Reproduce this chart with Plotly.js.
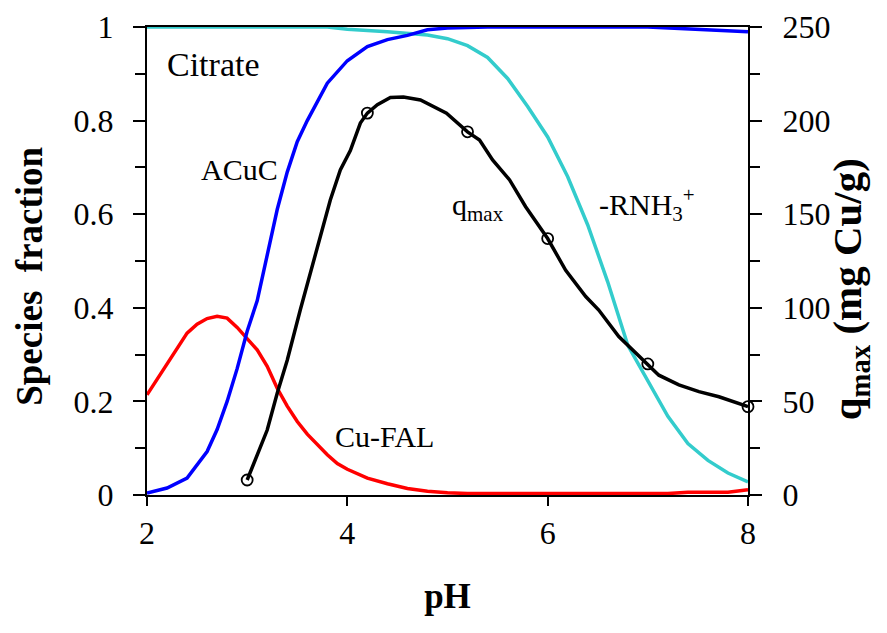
<!DOCTYPE html>
<html>
<head>
<meta charset="utf-8">
<script src="https://cdn.plot.ly/plotly-3.0.1.min.js"></script>
<style>html,body{margin:0;padding:0;background:#fff;}</style>
</head>
<body>
<div id="chart"></div>
<script>
// -RNH3+ species fraction
const phRNH3 = [2, 3.8, 4.0, 4.4, 4.8, 5.0, 5.2, 5.4, 5.6, 5.8, 6.0, 6.2, 6.4, 6.6, 6.8, 7.0, 7.2, 7.4, 7.6, 7.8, 8.0];
const fracRNH3 = [1, 1, 0.995, 0.99, 0.983, 0.975, 0.96, 0.935, 0.89, 0.83, 0.765, 0.68, 0.577, 0.455, 0.32, 0.245, 0.168, 0.11, 0.074, 0.047, 0.028];
// ACuC species fraction
const phACuC = [2, 2.2, 2.4, 2.6, 2.7, 2.8, 2.9, 3.0, 3.1, 3.2, 3.3, 3.4, 3.5, 3.6, 3.8, 4.0, 4.2, 4.4, 4.6, 4.8, 5.0, 5.4, 7.0, 8.0];
const fracACuC = [0.004, 0.015, 0.036, 0.093, 0.14, 0.2, 0.27, 0.35, 0.415, 0.51, 0.61, 0.69, 0.755, 0.80, 0.88, 0.928, 0.958, 0.973, 0.982, 0.994, 0.998, 1, 1, 0.99];
// Cu-FAL species fraction
const phCuFAL = [2, 2.2, 2.4, 2.5, 2.6, 2.7, 2.8, 2.9, 3.0, 3.1, 3.2, 3.3, 3.4, 3.5, 3.6, 3.7, 3.8, 3.9, 4.0, 4.2, 4.4, 4.6, 4.8, 5.0, 5.2, 7.2, 7.4, 7.8, 8.0];
const fracCuFAL = [0.214, 0.281, 0.346, 0.365, 0.377, 0.382, 0.378, 0.358, 0.333, 0.31, 0.275, 0.228, 0.19, 0.157, 0.13, 0.107, 0.086, 0.067, 0.055, 0.036, 0.024, 0.014, 0.008, 0.005, 0.003, 0.003, 0.006, 0.006, 0.011];
// qmax model curve (mg Cu/g)
const phQcurve = [3.0, 3.2, 3.3, 3.4, 3.53, 3.7, 3.83, 3.93, 4.03, 4.13, 4.2, 4.3, 4.43, 4.56, 4.73, 4.99, 5.2, 5.32, 5.45, 5.62, 5.78, 6.0, 6.18, 6.38, 6.51, 6.71, 6.85, 7.0, 7.11, 7.31, 7.51, 7.71, 8.0];
const qCurve = [8, 34.7, 54.3, 72, 98.8, 132, 157.6, 173.6, 184, 198.7, 204, 208.5, 212.4, 212.6, 211, 204, 194, 189.6, 179, 168.3, 154, 137, 120, 106, 98.8, 84.6, 77.5, 70, 64, 58.8, 55.2, 52.5, 47.2];
// qmax measured points
const phQpts = [3, 4.2, 5.2, 6, 7, 8];
const qPts = [8, 204, 194, 137, 70, 47.2];
// tick labels
const xTicks = [2, 4, 6, 8];
const yTicks = [0, 0.2, 0.4, 0.6, 0.8, 1];
const y2Ticks = [0, 50, 100, 150, 200, 250];

const serif = 'Liberation Serif';
const lw = 3.5;

const traces = [
  {x: phRNH3, y: fracRNH3, mode: 'lines', line: {color: '#33CCCC', width: lw}, cliponaxis: false},
  {x: phCuFAL, y: fracCuFAL, mode: 'lines', line: {color: '#FF0000', width: lw}, cliponaxis: false},
  {x: phACuC, y: fracACuC, mode: 'lines', line: {color: '#0000FF', width: lw}, cliponaxis: false},
  {x: phQcurve, y: qCurve, yaxis: 'y2', mode: 'lines', line: {color: '#000000', width: lw}, cliponaxis: false},
  {x: phQpts, y: qPts, yaxis: 'y2', mode: 'markers', marker: {symbol: 'circle-open', size: 11, color: '#000', line: {width: 1.8, color: '#000'}}, cliponaxis: false}
];

const layout = {
  width: 887, height: 633,
  margin: {l: 147, r: 139, t: 27, b: 138},
  paper_bgcolor: '#fff', plot_bgcolor: '#fff',
  showlegend: false,
  font: {family: serif, size: 32, color: '#000'},
  xaxis: {
    range: [2, 8], tickvals: xTicks, ticktext: xTicks.map(String),
    ticks: 'outside', ticklen: 9, tickwidth: 2, tickcolor: '#000',
    showline: true, linewidth: 2, linecolor: '#000', mirror: true,
    showgrid: false, zeroline: false,
    title: {text: '<b>pH</b>', font: {size: 35}, standoff: 33}
  },
  yaxis: {
    range: [0, 1], tickvals: yTicks, ticktext: yTicks.map(String),
    ticks: 'outside', ticklen: 12, tickwidth: 2, tickcolor: '#000',
    minor: {tickvals: [0.1, 0.3, 0.5, 0.7, 0.9], ticks: 'outside', ticklen: 10, tickwidth: 2, tickcolor: '#000'},
    showline: true, linewidth: 2, linecolor: '#000',
    showgrid: false, zeroline: false,
    ticklabelstandoff: 13
  },
  yaxis2: {
    overlaying: 'y', side: 'right', range: [0, 250],
    tickvals: y2Ticks, ticktext: y2Ticks.map(String),
    ticks: 'outside', ticklen: 12, tickwidth: 2, tickcolor: '#000',
    minor: {tickvals: [25, 75, 125, 175, 225], ticks: 'outside', ticklen: 10, tickwidth: 2, tickcolor: '#000'},
    showline: true, linewidth: 2, linecolor: '#000',
    showgrid: false, zeroline: false,
    ticklabelstandoff: 14
  },
  annotations: [
    {x: -0.195, y: 0.468, xref: 'paper', yref: 'paper', text: '<b>Species  fraction</b>', textangle: -90, showarrow: false, xanchor: 'center', yanchor: 'middle', font: {size: 37}},
    {x: 1.17, y: 0.44, xref: 'paper', yref: 'paper', text: '<b>q<sub>max</sub> (mg Cu/g)</b>', textangle: -90, showarrow: false, xanchor: 'center', yanchor: 'middle', font: {size: 41}},
    {x: 2.66, y: 0.92, xref: 'x', yref: 'y', text: 'Citrate', showarrow: false, font: {size: 34}},
    {x: 2.92, y: 0.695, xref: 'x', yref: 'y', text: 'ACuC', showarrow: false, font: {size: 30}},
    {x: 5.3, y: 0.615, xref: 'x', yref: 'y', text: 'q<sub>max</sub>', showarrow: false, font: {size: 30}},
    {x: 6.99, y: 0.62, xref: 'x', yref: 'y', text: '-RNH<sub>3</sub><sup>+</sup>', showarrow: false, font: {size: 30}},
    {x: 4.37, y: 0.124, xref: 'x', yref: 'y', text: 'Cu-FAL', showarrow: false, font: {size: 30}}
  ]
};

Plotly.newPlot('chart', traces, layout, {displayModeBar: false});
</script>
</body>
</html>
